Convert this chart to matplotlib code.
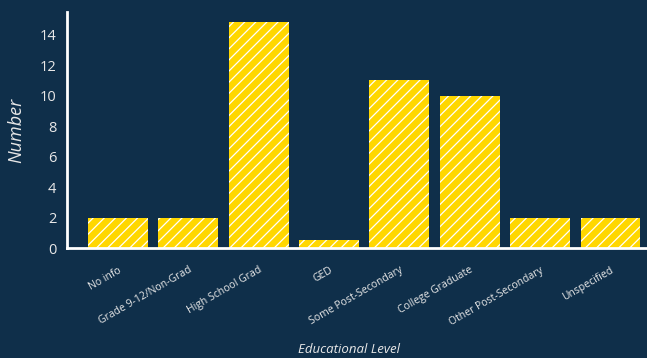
import matplotlib.pyplot as plt

categories = ['No info', 'Grade 9-12/Non-Grad', 'High School Grad', 'GED',
              'Some Post-Secondary', 'College Graduate', 'Other Post-Secondary',
              'Unspecified']
counts = [2, 2, 14.8, 0.5, 11, 10, 2, 2]

bg = '#0f2f4a'
plt.rcParams['font.family'] = ['Open Sans', 'DejaVu Sans']
plt.rcParams['hatch.linewidth'] = 0.9

fig = plt.figure(figsize=(6.47, 3.58), dpi=100, facecolor=bg)
ax = fig.add_axes([0.104, 0.307, 0.896, 0.66])
ax.set_facecolor(bg)

ax.bar(range(len(categories)), counts, width=0.85, color='#ffd700',
       edgecolor='white', linewidth=0, hatch='///')

ax.set_xlim(-0.72, 7.52)
ax.set_ylim(0, 15.5)
ax.set_yticks([0, 2, 4, 6, 8, 10, 12, 14])
ax.set_xticks(range(len(categories)))
ax.set_xticklabels(categories, rotation=30, ha='right', rotation_mode='anchor')
ax.tick_params(colors='#e8e8e8', length=0, labelsize=10.5)
ax.tick_params(axis='x', labelsize=7.5, pad=12)
ax.tick_params(axis='y', pad=8)

for s in ['top', 'right']:
    ax.spines[s].set_visible(False)
for s in ['left', 'bottom']:
    ax.spines[s].set_color('white')
    ax.spines[s].set_linewidth(2)

ax.set_ylabel('Number', color='#e8e8e8', fontsize=13, style='italic', labelpad=10)
fig.text(0.54, 0.015, 'Educational Level', color='#e8e8e8', fontsize=9.5,
         style='italic', ha='center')

fig.savefig('out.png', facecolor=bg)
